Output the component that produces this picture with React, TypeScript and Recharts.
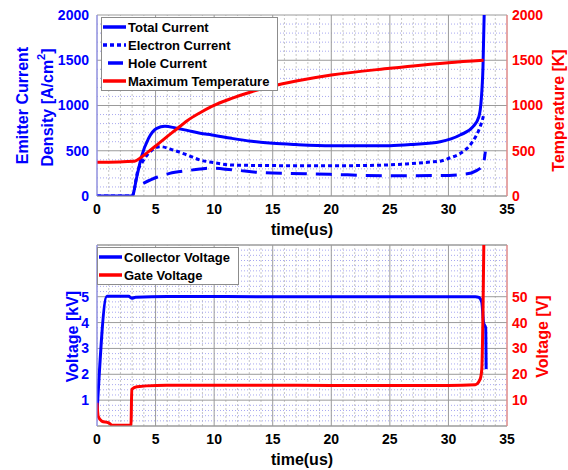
import React from 'react';
import {
  ComposedChart,
  Line,
  XAxis,
  YAxis,
  CartesianGrid,
  ReferenceLine,
  Legend,
  Label,
} from 'recharts';

const FONT = '"Liberation Sans", Arial, Helvetica, sans-serif';
const BLUE = '#0000ff';
const RED = '#ff0000';
const GRID = '#9b9b9b';

// shared time axis (us)
const timeTicks = [0, 5, 10, 15, 20, 25, 30, 35];

// top panel ticks
const currentTicks = [0, 500, 1000, 1500, 2000];
const tempTicks = [0, 500, 1000, 1500, 2000];

// bottom panel ticks
const kvTicks = [1, 2, 3, 4, 5];
const voltTicks = [10, 20, 30, 40, 50];

// legend order
const topNames = ['Total Current', 'Electron Current', 'Hole Current', 'Maximum Temperature'];
const bottomNames = ['Collector Voltage', 'Gate Voltage'];

// emitter current density [A/cm2]
const totalTime = [0, 3.0, 3.4, 3.8, 4.4, 5.1, 5.8, 6.7, 7.7, 8.8, 9.8, 11.5, 13.2, 15, 17, 20, 25, 27, 29.3, 31.0, 32.1, 32.6, 32.8, 32.95, 33.05];
const totalCurrent = [0, 0, 213, 434, 637, 748, 770, 752, 725, 693, 674, 637, 605, 582, 568, 556, 556, 570, 600, 674, 766, 876, 1061, 1430, 2000];

const electronTime = [0, 3.0, 3.5, 3.9, 4.7, 5.4, 6.5, 7.7, 8.8, 9.8, 11.5, 14, 17, 21, 24, 26.4, 28.4, 29.3, 30.1, 31.0, 32.0, 32.6, 32.85, 33.0];
const electronCurrent = [0, 0, 287, 381, 508, 545, 508, 453, 398, 372, 343, 337, 335, 335, 340, 354, 375, 385, 420, 470, 590, 730, 820, 890];

const holeTime = [3.95, 5.1, 6.2, 7.7, 8.8, 9.6, 11.5, 14.3, 16.5, 19.9, 25, 29.3, 31.6, 32.3, 32.95, 33.15];
const holeCurrent = [140, 207, 250, 280, 298, 308, 290, 257, 250, 239, 224, 226, 245, 275, 340, 490];

// maximum temperature [K]
const tempTime = [0, 3.2, 3.8, 4.4, 5.1, 5.8, 6.7, 7.7, 8.8, 9.8, 11.5, 13.2, 15, 17, 20, 25, 30, 33.0];
const tempK = [372, 385, 430, 490, 563, 637, 729, 832, 920, 990, 1079, 1152, 1215, 1270, 1337, 1411, 1473, 1500];

// collector voltage [kV]
const collTime = [0, 0.85, 2.7, 2.96, 3.3, 6, 15, 25, 32.3, 32.6, 32.85, 33.0, 33.18, 33.22];
const collKv = [0.5, 5.02, 5.02, 4.94, 4.98, 5.01, 5.0, 5.0, 5.0, 4.97, 4.78, 4.0, 3.8, 2.2];

// gate voltage [V]
const gateTime = [0, 0.1, 0.4, 1.0, 1.3, 2.9, 2.97, 3.4, 5.1, 10, 20, 30, 32.3, 32.7, 32.85, 32.95, 33.02];
const gateV = [9, 3.8, 1.9, 1.2, 0.3, 0.3, 14.2, 15.2, 15.7, 15.8, 15.7, 15.7, 16, 18, 22, 44, 70];

// minor grid positions
const minorTime = Array.from({ length: 35 }, (_, i) => i).filter((v) => v % 5 !== 0);
const minorCurrent = Array.from({ length: 20 }, (_, i) => i * 100).filter((v) => v % 500 !== 0);
const minorKv = Array.from({ length: 35 }, (_, i) => i).filter((i) => i > 0 && (i % 5 !== 0 || i === 30)).map((i) => i / 5);

const pts = (ts: number[], vs: number[]) => ts.map((t, i) => ({ t, v: vs[i] }));

const tickStyle = (fill: string) => ({ fill, fontSize: 14, fontWeight: 'bold', fontFamily: FONT });

const rotText = (x: number, y: number, color: string, children: React.ReactNode, key: string) => (
  <text
    key={key}
    x={x}
    y={y}
    transform={`rotate(-90 ${x} ${y})`}
    textAnchor="middle"
    dominantBaseline="central"
    fill={color}
    fontFamily={FONT}
    fontWeight="bold"
    fontSize={16}
  >
    {children}
  </text>
);

const timeLabel = (props: any) => {
  const vb = props.viewBox || { x: 97, y: 196, width: 410, height: 44 };
  return (
    <text
      x={vb.x + vb.width / 2}
      y={vb.y + 33}
      textAnchor="middle"
      dominantBaseline="central"
      fill="#000"
      fontFamily={FONT}
      fontWeight="bold"
      fontSize={16}
    >
      time(us)
    </text>
  );
};

const currentLabel = (props: any) => {
  const vb = props.viewBox || { x: 0, y: 15, width: 97, height: 181 };
  const cy = vb.y + vb.height / 2;
  return (
    <g>
      {rotText(vb.x + 22, cy, BLUE, 'Emitter Current', 'a')}
      {rotText(
        vb.x + 47,
        cy + 2,
        BLUE,
        <>
          Density [A/cm
          <tspan dy={-6} fontSize={11}>2</tspan>
          <tspan dy={6}>]</tspan>
        </>,
        'b'
      )}
    </g>
  );
};

const tempLabel = (props: any) => {
  const vb = props.viewBox || { x: 507, y: 15, width: 61, height: 181 };
  return rotText(vb.x + 51, vb.y + vb.height / 2 + 5, RED, 'Temperature [K]', 't');
};

const kvLabel = (props: any) => {
  const vb = props.viewBox || { x: 0, y: 245, width: 97, height: 181 };
  return rotText(vb.x + 72, vb.y + vb.height / 2 + 1, BLUE, 'Voltage [kV]', 'kv');
};

const voltLabel = (props: any) => {
  const vb = props.viewBox || { x: 507, y: 245, width: 61, height: 181 };
  return rotText(vb.x + 35, vb.y + vb.height / 2 + 1, RED, 'Voltage [V]', 'v');
};

const legendBox = (width: number, order: string[]) => (props: any) => {
  const items = [...(props.payload || [])].sort(
    (a: any, b: any) => order.indexOf(a.value) - order.indexOf(b.value)
  );
  return (
    <div
      style={{
        width,
        background: '#fff',
        border: '1px solid #8c8c8c',
        fontFamily: FONT,
        lineHeight: 1,
      }}
    >
      {items.map((it: any) => {
        const dash = it.payload?.strokeDasharray;
        const isDash = dash === '16 9';
        return (
          <div key={it.value} style={{ display: 'flex', alignItems: 'center', height: 18 }}>
            <svg width={26} height={18} style={{ display: 'block' }}>
              <line
                x1={isDash ? 6 : 1}
                x2={isDash ? 21 : 24}
                y1={9}
                y2={9}
                stroke={it.color}
                strokeWidth={3.5}
                strokeDasharray={isDash ? undefined : dash}
              />
            </svg>
            <span style={{ fontSize: 13, fontWeight: 'bold', color: '#000', whiteSpace: 'nowrap' }}>{it.value}</span>
          </div>
        );
      })}
    </div>
  );
};

const TopPanel = () => (
  <ComposedChart width={568} height={240} margin={{ top: 15, right: 0, bottom: 0, left: 0 }}>
    {minorTime.map((v) => (
      <ReferenceLine key={`mx${v}`} x={v} yAxisId="left" stroke="#c6c6c6" strokeDasharray="2 2" zIndex={-200} />
    ))}
    {minorCurrent.map((v) => (
      <ReferenceLine key={`my${v}`} y={v} yAxisId="left" stroke="#a8a8f0" strokeDasharray="1 2" zIndex={-200} />
    ))}
    <CartesianGrid yAxisId="left" stroke={GRID} />
    <XAxis
      dataKey="t"
      type="number"
      domain={[0, 35]}
      ticks={timeTicks}
      interval={0}
      allowDataOverflow
      height={44}
      tickLine={false}
      axisLine={{ stroke: GRID }}
      tick={tickStyle('#000')}
    >
      <Label content={timeLabel} />
    </XAxis>
    <YAxis
      yAxisId="left"
      type="number"
      domain={[0, 2000]}
      ticks={currentTicks}
      interval={0}
      allowDataOverflow
      width={97}
      tickLine={false}
      axisLine={{ stroke: '#8a8aff' }}
      tick={tickStyle(BLUE)}
    >
      <Label content={currentLabel} />
    </YAxis>
    <YAxis
      yAxisId="right"
      orientation="right"
      type="number"
      domain={[0, 2000]}
      ticks={tempTicks}
      interval={0}
      allowDataOverflow
      width={61}
      tickLine={false}
      tickSize={3}
      tickMargin={2}
      axisLine={{ stroke: '#ff8080' }}
      tick={tickStyle(RED)}
    >
      <Label content={tempLabel} />
    </YAxis>
    <Line
      name={topNames[0]}
      data={pts(totalTime, totalCurrent)}
      dataKey="v"
      yAxisId="left"
      type="monotone"
      stroke={BLUE}
      strokeWidth={3}
      dot={false}
      isAnimationActive={false}
    />
    <Line
      name={topNames[1]}
      data={pts(electronTime, electronCurrent)}
      dataKey="v"
      yAxisId="left"
      type="monotone"
      stroke={BLUE}
      strokeWidth={3}
      strokeDasharray="4 3"
      dot={false}
      isAnimationActive={false}
    />
    <Line
      name={topNames[2]}
      data={pts(holeTime, holeCurrent)}
      dataKey="v"
      yAxisId="left"
      type="monotone"
      stroke={BLUE}
      strokeWidth={3}
      strokeDasharray="16 9"
      dot={false}
      isAnimationActive={false}
    />
    <Line
      name={topNames[3]}
      data={pts(tempTime, tempK)}
      dataKey="v"
      yAxisId="right"
      type="monotone"
      stroke={RED}
      strokeWidth={3}
      dot={false}
      isAnimationActive={false}
    />
    <Legend
      layout="vertical"
      align="center"
      verticalAlign="middle"
      wrapperStyle={{ left: 101, top: 17, width: 'auto' }}
      content={legendBox(175, topNames)}
    />
  </ComposedChart>
);

const BottomPanel = () => (
  <ComposedChart width={568} height={230} margin={{ top: 5, right: 0, bottom: 0, left: 0 }}>
    {minorTime.map((v) => (
      <ReferenceLine key={`mx${v}`} x={v} yAxisId="left" stroke="#c6c6c6" strokeDasharray="2 2" zIndex={-200} />
    ))}
    {minorKv.map((v) => (
      <ReferenceLine key={`my${v}`} y={v} yAxisId="left" stroke="#a8a8f0" strokeDasharray="1 2" zIndex={-200} />
    ))}
    <CartesianGrid yAxisId="left" stroke={GRID} />
    <ReferenceLine y={7} yAxisId="left" stroke={GRID} />
    <XAxis
      dataKey="t"
      type="number"
      domain={[0, 35]}
      ticks={timeTicks}
      interval={0}
      allowDataOverflow
      height={44}
      tickLine={false}
      axisLine={{ stroke: GRID }}
      tick={tickStyle('#000')}
    >
      <Label content={timeLabel} />
    </XAxis>
    <YAxis
      yAxisId="left"
      type="number"
      domain={[0, 7]}
      ticks={kvTicks}
      interval={0}
      allowDataOverflow
      width={97}
      tickLine={false}
      axisLine={{ stroke: '#8a8aff' }}
      tick={tickStyle(BLUE)}
    >
      <Label content={kvLabel} />
    </YAxis>
    <YAxis
      yAxisId="right"
      orientation="right"
      type="number"
      domain={[0, 70]}
      ticks={voltTicks}
      interval={0}
      allowDataOverflow
      width={61}
      tickLine={false}
      tickSize={3}
      tickMargin={2}
      axisLine={{ stroke: '#ff8080' }}
      tick={tickStyle(RED)}
    >
      <Label content={voltLabel} />
    </YAxis>
    <Line
      name={bottomNames[0]}
      data={pts(collTime, collKv)}
      dataKey="v"
      yAxisId="left"
      type="monotone"
      stroke={BLUE}
      strokeWidth={3}
      dot={false}
      isAnimationActive={false}
    />
    <Line
      name={bottomNames[1]}
      data={pts(gateTime, gateV)}
      dataKey="v"
      yAxisId="right"
      type="monotone"
      stroke={RED}
      strokeWidth={3}
      dot={false}
      isAnimationActive={false}
    />
    <Legend
      layout="vertical"
      align="center"
      verticalAlign="middle"
      wrapperStyle={{ left: 97, top: 7, width: 'auto' }}
      content={legendBox(140, bottomNames)}
    />
  </ComposedChart>
);

export default function App() {
  return (
    <div style={{ position: 'absolute', left: 0, top: 0, width: 568, height: 470, background: '#fff', fontFamily: FONT }}>
      <TopPanel />
      <BottomPanel />
    </div>
  );
}
